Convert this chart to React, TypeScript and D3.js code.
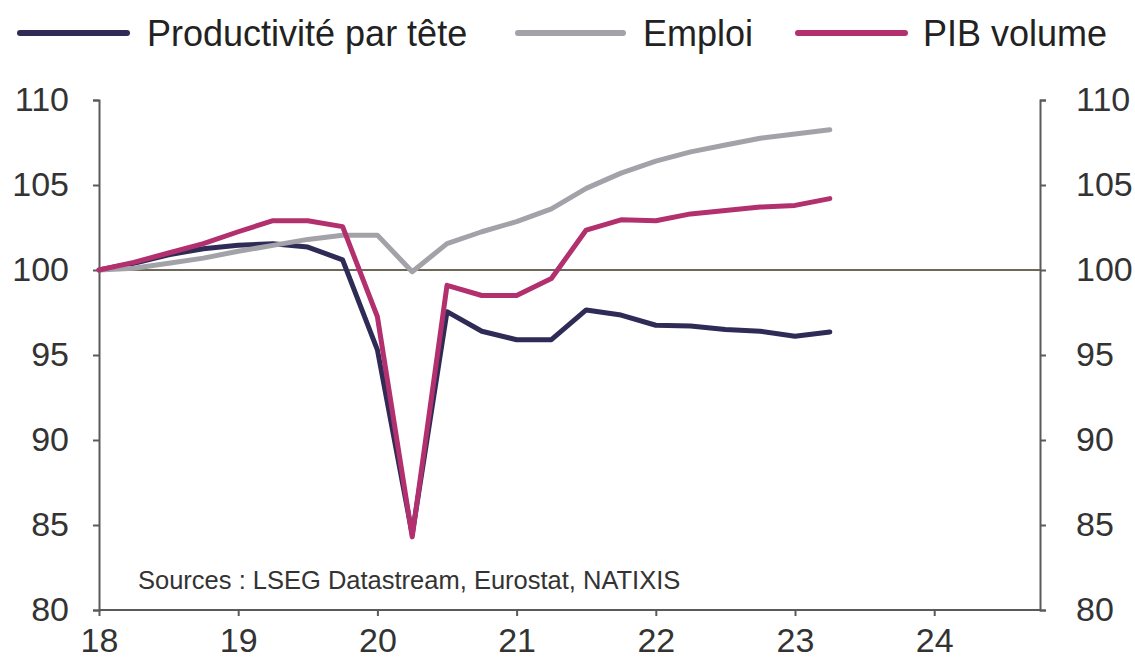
import React, { useEffect, useRef } from "react";
import { axisBottom, axisLeft, axisRight, line, scaleLinear, select } from "d3";

// quarterly points, 2018Q1 .. 2023Q2 (index 2018 = 100)
const quarters = [
  "2018Q1", "2018Q2", "2018Q3", "2018Q4",
  "2019Q1", "2019Q2", "2019Q3", "2019Q4",
  "2020Q1", "2020Q2", "2020Q3", "2020Q4",
  "2021Q1", "2021Q2", "2021Q3", "2021Q4",
  "2022Q1", "2022Q2", "2022Q3", "2022Q4",
  "2023Q1", "2023Q2",
];

const productivite = [
  100, 100.4, 100.9, 101.25, 101.45, 101.55, 101.35, 100.6,
  95.3, 84.45, 97.55, 96.4, 95.9, 95.9, 97.65, 97.35,
  96.75, 96.7, 96.5, 96.4, 96.1, 96.35,
];

const emploi = [
  100, 100.1, 100.4, 100.7, 101.1, 101.45, 101.8, 102.05,
  102.05, 99.9, 101.55, 102.25, 102.85, 103.6, 104.8, 105.7,
  106.4, 106.95, 107.35, 107.75, 108.0, 108.25,
];

const pibVolume = [
  100, 100.45, 101.0, 101.55, 102.25, 102.9, 102.9, 102.55,
  97.25, 84.3, 99.1, 98.5, 98.5, 99.5, 102.35, 102.95,
  102.9, 103.3, 103.5, 103.7, 103.8, 104.2,
];

const yearTicks = [2018, 2019, 2020, 2021, 2022, 2023, 2024];
const valueTicks = [80, 85, 90, 95, 100, 105, 110];

const series = [
  { name: "Productivité par tête", values: productivite, color: "#2e2b57" },
  { name: "Emploi", values: emploi, color: "#a4a2a9" },
  { name: "PIB volume", values: pibVolume, color: "#b2306e" },
];

const toYear = (q: string) => +q.slice(0, 4) + (+q.slice(5) - 1) / 4;

export default function App() {
  const ref = useRef<SVGSVGElement>(null);

  useEffect(() => {
    const width = 1135;
    const height = 668;
    const left = 99;
    const right = 1040;
    const top = 100;
    const bottom = 610;
    const font = "'Liberation Sans', Arial, sans-serif";

    const x = scaleLinear().domain([2018, 2024.76]).range([left, right]);
    const y = scaleLinear().domain([80, 110]).range([bottom, top]);

    const svg = select(ref.current);
    svg.selectAll("*").remove();
    svg.attr("width", width).attr("height", height);

    svg.append("rect").attr("width", width).attr("height", height).attr("fill", "#ffffff");

    // axes
    const axisColor = "#5a5a5a";
    const gl = svg.append("g")
      .attr("transform", `translate(${left},0)`)
      .call(axisLeft(y).tickValues(valueTicks).tickSize(6).tickPadding(24).tickFormat((d) => String(d)));
    const gr = svg.append("g")
      .attr("transform", `translate(${right},0)`)
      .call(axisRight(y).tickValues(valueTicks).tickSize(6).tickPadding(30).tickFormat((d) => String(d)));
    const gb = svg.append("g")
      .attr("transform", `translate(0,${bottom})`)
      .call(axisBottom(x).tickValues(yearTicks).tickSize(6).tickPadding(12).tickFormat((d) => String(+d % 100)));

    [gl, gr, gb].forEach((g) => {
      g.selectAll("path").attr("stroke", axisColor).attr("stroke-width", 2);
      g.selectAll("line").attr("stroke", axisColor).attr("stroke-width", 2);
      g.selectAll("text")
        .attr("fill", "#333")
        .style("font-family", font)
        .style("font-size", "34px");
    });
    gb.selectAll("path").attr("d", `M${left},0H${right}`);

    // reference line at 100
    svg.append("line")
      .attr("x1", left).attr("x2", right)
      .attr("y1", y(100)).attr("y2", y(100))
      .attr("stroke", "#6d685a").attr("stroke-width", 2);

    const path = line<number>()
      .x((_, i) => x(toYear(quarters[i])))
      .y((d) => y(d));

    series.forEach((s) => {
      svg.append("path")
        .datum(s.values)
        .attr("d", path)
        .attr("fill", "none")
        .attr("stroke", s.color)
        .attr("stroke-width", 5)
        .attr("stroke-linejoin", "round")
        .attr("stroke-linecap", "round");
    });

    // legend
    const legendPos = [
      { x1: 20, x2: 127, tx: 147 },
      { x1: 518, x2: 623, tx: 643 },
      { x1: 798, x2: 905, tx: 923 },
    ];
    series.forEach((s, i) => {
      const p = legendPos[i];
      svg.append("line")
        .attr("x1", p.x1).attr("x2", p.x2)
        .attr("y1", 33).attr("y2", 33)
        .attr("stroke", s.color).attr("stroke-width", 6)
        .attr("stroke-linecap", "round");
      svg.append("text")
        .attr("x", p.tx).attr("y", 46)
        .attr("fill", "#222")
        .style("font-family", font)
        .style("font-size", "36px")
        .text(s.name);
    });

    svg.append("text")
      .attr("x", 138).attr("y", 589)
      .attr("fill", "#333")
      .style("font-family", font)
      .style("font-size", "25.5px")
      .text("Sources : LSEG Datastream, Eurostat, NATIXIS");
  }, []);

  return <svg ref={ref} style={{ position: "absolute", left: 0, top: 0 }} />;
}
